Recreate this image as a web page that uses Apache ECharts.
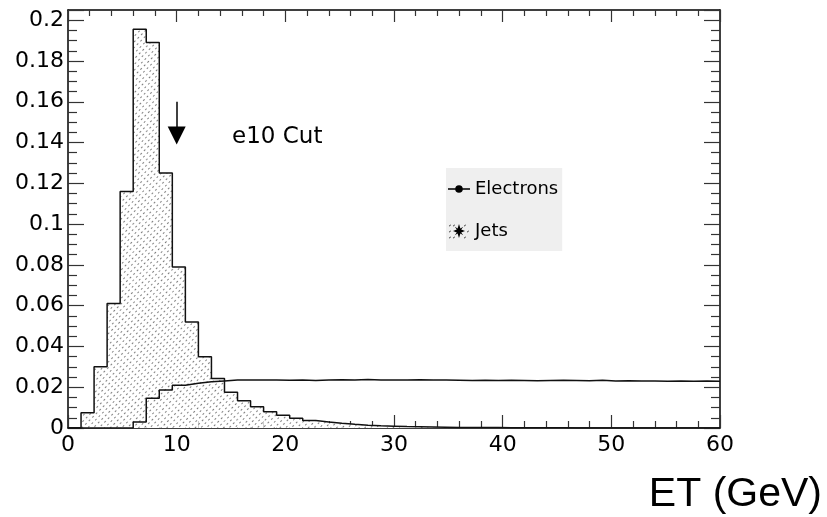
<!DOCTYPE html>
<html>
<head>
<meta charset="utf-8">
<script src="https://cdn.jsdelivr.net/npm/echarts@6/dist/echarts.min.js"></script>
<style>
html,body{margin:0;padding:0;background:#fff;}
#c{width:827px;height:517px;}
</style>
</head>
<body>
<div id="c"></div>
<script>
// Histogram range and binning (50 bins from 0 to 60 GeV)
const xMin = 0, xMax = 60, nBins = 50;
const xTickStep = 10;
const yTickStep = 0.02;
const yMax = 0.205;

// Jets: normalised counts per bin
const jets = [
  0, 0.0075, 0.030, 0.061, 0.116,
  0.1955, 0.189, 0.125, 0.079, 0.052,
  0.035, 0.0243, 0.0175, 0.0134, 0.0104,
  0.008, 0.0062, 0.0048, 0.0037, 0.0029,
  0.0023, 0.0018, 0.0014, 0.0011, 0.0009,
  0.0007, 0.0006, 0.0005, 0.0004, 0.0003,
  0.0003, 0.0002, 0.0002, 0.0001, 0.0001,
  0.0001, 0.0001, 0.0001, 0, 0,
  0, 0, 0, 0, 0,
  0, 0, 0, 0, 0
];

// Electrons: normalised counts per bin
const electrons = [
  0, 0, 0, 0, 0,
  0.003, 0.0146, 0.0186, 0.021, 0.0219,
  0.0227, 0.0231, 0.0235, 0.0236, 0.0235,
  0.0236, 0.0234, 0.0235, 0.0233, 0.0236,
  0.0237, 0.0235, 0.0238, 0.0236, 0.0235,
  0.0236, 0.0237, 0.0236, 0.0235, 0.0234,
  0.0233, 0.0234, 0.0233, 0.0234, 0.0233,
  0.0232, 0.0233, 0.0234, 0.0233, 0.0232,
  0.0234, 0.0230, 0.0232, 0.0231, 0.0230,
  0.0229, 0.0230, 0.0229, 0.0230, 0.0229
];

// Cut marker
const cutValue = 10;
const cutArrowTop = 0.16;
const cutArrowTip = 0.1435;
const cutLabel = 'e10 Cut';
const cutLabelPos = [15.1, 0.1426];
const xAxisTitle = 'ET (GeV)';

const binWidth = (xMax - xMin) / nBins;
const binNames = jets.map((_, i) => 'b' + i);
function stepData(vals) {
  const d = vals.map((v, i) => [xMin + i * binWidth, v]);
  d.push([xMax, vals[vals.length - 1]]);
  return d;
}

const font = 'DejaVu Sans';
const tickColor = '#333';
const axisBase = {
  axisLine: {show: true, onZero: false, lineStyle: {color: '#000', width: 1.5}},
  splitLine: {show: false}
};

// legend icons (tiny corner marks pin the icon box to 22x16)
const pin = 'M0,0 L0.01,0 L0,0.01 Z M22,16 L21.99,16 L22,15.99 Z ';
const electronIcon = 'path://' + pin + 'M0,7.3 L22,7.3 L22,8.7 L0,8.7 Z M11,4.2 A3.8,3.8 0 1,1 11,11.8 A3.8,3.8 0 1,1 11,4.2 Z';
const jetIcon = 'path://' + pin +
  'M17,8 L13.2,9.4 L15.2,12.2 L12.4,10.6 L11,15 L9.6,10.6 L6.8,12.2 L8.8,9.4 L5,8 L8.8,6.6 L6.8,3.8 L9.6,5.4 L11,1 L12.4,5.4 L15.2,3.8 L13.2,6.6 Z ' +
  'M1,3 L2.5,1.5 L2.9,1.9 L1.4,3.4 Z M5,3 L6.5,1.5 L6.9,1.9 L5.4,3.4 Z M16,3 L17.5,1.5 L17.9,1.9 L16.4,3.4 Z ' +
  'M1,15 L2.5,13.5 L2.9,13.9 L1.4,15.4 Z M5,15 L6.5,13.5 L6.9,13.9 L5.4,15.4 Z M16,15 L17.5,13.5 L17.9,13.9 L16.4,15.4 Z ' +
  'M1,9 L2.5,7.5 L2.9,7.9 L1.4,9.4 Z M19,9 L20.5,7.5 L20.9,7.9 L19.4,9.4 Z';

const chart = echarts.init(document.getElementById('c'), null, {renderer: 'canvas'});
chart.setOption({
  animation: false,
  backgroundColor: '#fff',
  grid: {left: 68, right: 107, top: 10, bottom: 89, containLabel: false},
  xAxis: [
    Object.assign({}, axisBase, {
      type: 'value', min: xMin, max: xMax, interval: xTickStep, position: 'bottom',
      axisTick: {show: true, inside: true, length: 13, lineStyle: {color: tickColor, width: 1.2}},
      minorTick: {show: true, splitNumber: 5, length: 7, lineStyle: {color: tickColor, width: 1.2}},
      axisLabel: {color: '#000', fontSize: 22, fontFamily: font, margin: 6}
    }),
    Object.assign({}, axisBase, {
      type: 'value', min: xMin, max: xMax, interval: xTickStep, position: 'top',
      axisTick: {show: true, inside: true, length: 12, lineStyle: {color: tickColor, width: 1.2}},
      minorTick: {show: true, splitNumber: 5, length: 6, lineStyle: {color: tickColor, width: 1.2}},
      axisLabel: {show: false}
    }),
    {type: 'category', data: binNames, show: false, boundaryGap: true}
  ],
  yAxis: [
    Object.assign({}, axisBase, {
      type: 'value', min: 0, max: yMax, interval: yTickStep, position: 'left',
      axisTick: {show: true, inside: true, length: 16, lineStyle: {color: tickColor, width: 1.2}},
      minorTick: {show: true, splitNumber: 4, length: 9, lineStyle: {color: tickColor, width: 1.2}},
      axisLabel: {color: '#000', fontSize: 22, fontFamily: font, margin: 4, showMaxLabel: false}
    }),
    Object.assign({}, axisBase, {
      type: 'value', min: 0, max: yMax, interval: yTickStep, position: 'right',
      axisTick: {show: true, inside: true, length: 16, lineStyle: {color: tickColor, width: 1.2}},
      minorTick: {show: true, splitNumber: 4, length: 9, lineStyle: {color: tickColor, width: 1.2}},
      axisLabel: {show: false}
    })
  ],
  legend: {
    left: 446, top: 168, orient: 'vertical',
    backgroundColor: '#efefef',
    padding: [12, 4, 11, 2],
    itemGap: 24, itemWidth: 22, itemHeight: 16,
    selectedMode: false,
    textStyle: {fontFamily: font, fontSize: 18, color: '#000'},
    data: [
      {name: 'Electrons', icon: electronIcon, itemStyle: {color: '#000'}},
      {name: 'Jets', icon: jetIcon, itemStyle: {color: '#000'}}
    ]
  },
  series: [
    {
      name: 'JetsFill', type: 'bar', xAxisIndex: 2, yAxisIndex: 0,
      data: jets, barWidth: '100%', barGap: '-100%', silent: true, z: 1,
      itemStyle: {
        color: '#fff',
        decal: {
          symbol: 'rect', symbolSize: 1,
          dashArrayX: [2, 3], dashArrayY: [1, 3],
          rotation: -Math.PI / 4,
          color: 'rgba(0,0,0,0.5)'
        }
      }
    },
    {
      name: 'Jets', type: 'line', xAxisIndex: 0, yAxisIndex: 0, step: 'end',
      data: stepData(jets), symbol: 'none', z: 3,
      lineStyle: {color: '#111', width: 1.5}, itemStyle: {color: '#000'},
      markLine: {
        silent: true, symbol: ['none', 'triangle'], symbolSize: 18,
        lineStyle: {color: '#000', width: 1.5, type: 'solid'},
        label: {show: false},
        data: [[{coord: [cutValue, cutArrowTop]}, {coord: [cutValue, cutArrowTip]}]]
      },
      markPoint: {
        silent: true, symbol: 'circle', symbolSize: 0,
        label: {show: true, position: 'right', distance: 0, formatter: cutLabel,
                fontFamily: font, fontSize: 23, color: '#000'},
        data: [{coord: cutLabelPos}]
      }
    },
    {
      name: 'Electrons', type: 'line', xAxisIndex: 0, yAxisIndex: 0, step: 'end',
      data: stepData(electrons), symbol: 'none', z: 4,
      lineStyle: {color: '#111', width: 1.5}, itemStyle: {color: '#000'}
    }
  ],
  graphic: [
    {type: 'text', right: 5, top: 474,
     style: {text: xAxisTitle, font: '41px "Liberation Sans", Arial, sans-serif', fill: '#000'}}
  ]
});
</script>
</body>
</html>
